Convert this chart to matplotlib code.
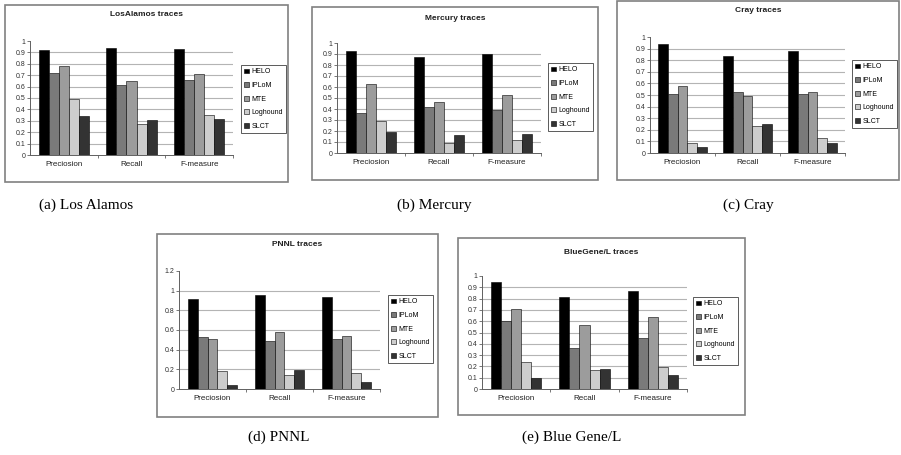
import matplotlib
matplotlib.use("Agg")
import matplotlib.pyplot as plt
import numpy as np
from matplotlib.patches import Rectangle, Patch

W, H = 901, 455

categories = ["Preciosion", "Recall", "F-measure"]
methods = ["HELO", "IPLoM", "MTE", "Loghound", "SLCT"]
colors = ["#000000", "#7a7a7a", "#9c9c9c", "#cdcdcd", "#333333"]

# rows follow `methods`, columns follow `categories`
los_alamos = [
    [0.92, 0.94, 0.93],
    [0.72, 0.61, 0.66],
    [0.78, 0.65, 0.71],
    [0.49, 0.27, 0.35],
    [0.34, 0.31, 0.32],
]
mercury = [
    [0.93, 0.87, 0.90],
    [0.36, 0.42, 0.39],
    [0.63, 0.46, 0.53],
    [0.29, 0.09, 0.12],
    [0.19, 0.16, 0.17],
]
cray = [
    [0.94, 0.84, 0.88],
    [0.51, 0.53, 0.51],
    [0.58, 0.49, 0.53],
    [0.09, 0.23, 0.13],
    [0.05, 0.25, 0.09],
]
pnnl = [
    [0.92, 0.96, 0.935],
    [0.525, 0.485, 0.51],
    [0.505, 0.58, 0.54],
    [0.18, 0.14, 0.165],
    [0.04, 0.19, 0.07],
]
bluegene = [
    [0.95, 0.81, 0.87],
    [0.60, 0.365, 0.455],
    [0.71, 0.57, 0.635],
    [0.24, 0.17, 0.195],
    [0.095, 0.175, 0.125],
]

titles = ["LosAlamos traces", "Mercury traces", "Cray traces", "PNNL traces", "BlueGene/L traces"]
captions = ["(a) Los Alamos", "(b) Mercury", "(c) Cray", "(d) PNNL", "(e) Blue Gene/L"]
datasets = [los_alamos, mercury, cray, pnnl, bluegene]
y_max = [1.0, 1.0, 1.0, 1.2, 1.0]
y_step = [0.1, 0.1, 0.1, 0.2, 0.1]

# layout in pixels (left, top, right, bottom)
boxes = [(5, 5, 288, 182), (312, 7, 598, 180), (617, 1, 899, 180),
         (157, 234, 438, 417), (458, 238, 745, 415)]
plots = [(30, 41, 233, 155), (337, 43, 541, 153), (650, 37, 845, 153),
         (179, 271, 380, 389), (482, 276, 687, 389)]
legend_pos = [(241, 65), (548, 63), (852, 60), (388, 295), (693, 297)]
title_y = [15, 19, 10, 245, 252]
caption_pos = [(86, 205), (434, 205), (748, 205), (279, 437), (572, 437)]


def fig_rect(l, t, r, b):
    return [l / W, 1 - b / H, (r - l) / W, (b - t) / H]


fig = plt.figure(figsize=(W / 100, H / 100), dpi=100)
plt.rcParams["font.family"] = ["Liberation Sans", "DejaVu Sans"]

for i, data in enumerate(datasets):
    l, t, r, b = boxes[i]
    fig.add_artist(Rectangle((l / W, 1 - b / H), (r - l) / W, (b - t) / H,
                             transform=fig.transFigure, fill=False,
                             edgecolor="#808080", lw=1.2))
    fig.text((l + r) / 2 / W, 1 - title_y[i] / H, titles[i], ha="center", va="center",
             fontsize=6, fontweight="bold", color="#202020")

    ax = fig.add_axes(fig_rect(*plots[i]))
    x = np.arange(len(categories))
    width = 0.148
    for k, name in enumerate(methods):
        ax.bar(x + (k - 2) * width, data[k], width, color=colors[k],
               edgecolor="#000000", linewidth=0.4, zorder=3)

    ticks = np.arange(0, y_max[i] + 1e-9, y_step[i])
    ax.set_ylim(0, y_max[i])
    ax.set_xlim(-0.5, 2.5)
    ax.set_yticks(ticks)
    ax.set_yticklabels([f"{v:g}" for v in ticks])
    for v in ticks[1:-1]:
        ax.axhline(v, color="#b4b4b4", lw=0.8, zorder=1)
    ax.set_xticks(x)
    ax.set_xticklabels(categories)
    ax.set_xticks([0.5, 1.5, 2.5], minor=True)
    ax.tick_params(axis="x", which="major", length=0, pad=4, labelsize=5.8, colors="#202020")
    ax.tick_params(axis="x", which="minor", length=2, width=0.6, color="#606060")
    ax.tick_params(axis="y", length=2, width=0.6, pad=1.5, labelsize=5,
                   color="#606060", labelcolor="#303030")
    for side in ["top", "right"]:
        ax.spines[side].set_visible(False)
    for side in ["left", "bottom"]:
        ax.spines[side].set_color("#606060")
        ax.spines[side].set_linewidth(0.7)
    ax.patch.set_visible(False)

    handles = [Patch(facecolor=c, edgecolor="#000000", linewidth=0.4) for c in colors]
    lx, ly = legend_pos[i]
    leg = ax.legend(handles, methods, loc="upper left", bbox_to_anchor=(lx / W, 1 - ly / H),
                    bbox_transform=fig.transFigure, borderaxespad=0, fontsize=5,
                    handlelength=0.7, handleheight=0.7, handletextpad=0.3,
                    labelspacing=0.95, borderpad=0.5, fancybox=False, framealpha=1)
    leg.get_frame().set_edgecolor("#404040")
    leg.get_frame().set_linewidth(0.6)

    cx, cy = caption_pos[i]
    fig.text(cx / W, 1 - cy / H, captions[i], ha="center", va="center",
             fontsize=11, family=["Liberation Serif", "DejaVu Serif"])

fig.savefig("out.png", dpi=100)
plt.close(fig)
